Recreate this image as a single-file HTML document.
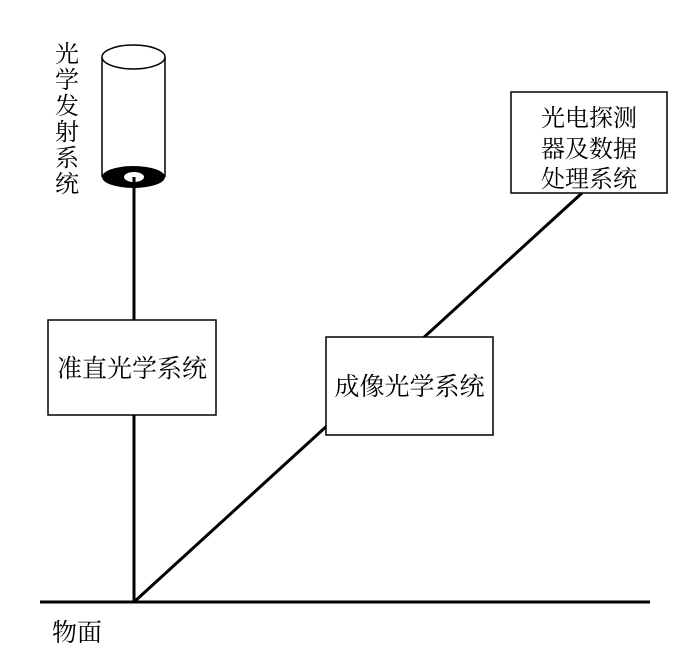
<!DOCTYPE html>
<html><head><meta charset="utf-8"><style>
body{margin:0;background:#fff}
svg text{font-family:"Liberation Serif","Noto Serif CJK SC","Noto Sans CJK SC",serif;fill:#000}
</style></head><body>
<svg width="700" height="653" viewBox="0 0 700 653">
<line x1="40" y1="602" x2="650" y2="602" stroke="#000" stroke-width="3"/>
<line x1="134" y1="182" x2="134" y2="602" stroke="#000" stroke-width="3"/>
<line x1="134" y1="602" x2="582" y2="193" stroke="#000" stroke-width="3"/>
<rect x="102" y="45" width="63" height="132" fill="#fff" stroke="none"/>
<line x1="102" y1="57" x2="102" y2="177" stroke="#000" stroke-width="1.5"/>
<line x1="165" y1="57" x2="165" y2="177" stroke="#000" stroke-width="1.5"/>
<ellipse cx="133.5" cy="57" rx="31.5" ry="12" fill="#fff" stroke="#000" stroke-width="1.5"/>
<ellipse cx="133.5" cy="177" rx="31.5" ry="11" fill="#000"/>
<ellipse cx="134" cy="177" rx="10" ry="5" fill="#fff"/>
<line x1="134" y1="177" x2="134" y2="187" stroke="#000" stroke-width="3"/>
<g font-size="24">
<text x="55" y="62">光</text><text x="55" y="88">学</text><text x="55" y="114">发</text>
<text x="55" y="140">射</text><text x="55" y="166">系</text><text x="55" y="192">统</text>
</g>
<rect x="48" y="320" width="168" height="95" fill="#fff" stroke="#000" stroke-width="1.5"/>
<text x="132" y="377" font-size="25" text-anchor="middle">准直光学系统</text>
<rect x="326" y="337" width="167" height="98" fill="#fff" stroke="#000" stroke-width="1.5"/>
<text x="409.5" y="395" font-size="25" text-anchor="middle">成像光学系统</text>
<rect x="511" y="92" width="156" height="101" fill="#fff" stroke="#000" stroke-width="1.5"/>
<g font-size="24" text-anchor="middle">
<text x="589" y="126">光电探测</text>
<text x="589" y="157">器及数据</text>
<text x="589" y="187">处理系统</text>
</g>
<text x="52" y="641" font-size="25">物面</text>
</svg>
</body></html>
